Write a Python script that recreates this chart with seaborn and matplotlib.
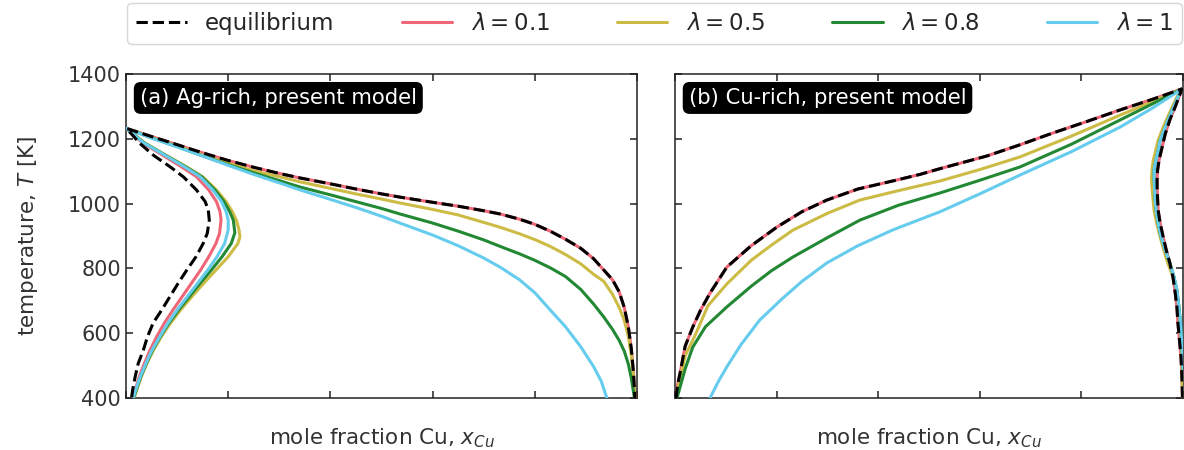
import matplotlib
matplotlib.use("Agg")
import matplotlib.pyplot as plt
import seaborn as sns
from matplotlib.ticker import MultipleLocator, NullFormatter

# === data: (x, T), one continuous curve per series ===
# panel (a) Ag-rich: lower branch bottom->top, then upper branch top->bottom
eq_a_x = [0.011, 0.013, 0.018, 0.024, 0.034, 0.042, 0.053, 0.070, 0.086, 0.102, 0.119, 0.137, 0.151, 0.159,
          0.163, 0.161, 0.155, 0.138, 0.112, 0.086, 0.053, 0.027, 0.001,
          0.05, 0.10, 0.145, 0.2, 0.25, 0.3, 0.341, 0.4, 0.45, 0.5, 0.536, 0.6, 0.65, 0.7, 0.732,
          0.77, 0.8, 0.83, 0.86, 0.89, 0.915, 0.935, 0.952, 0.965, 0.975, 0.983, 0.989, 0.993, 0.996]
eq_a_T = [402, 425, 466, 507, 548, 589, 631, 672, 713, 754, 795, 836, 877, 908,
          949, 980, 1006, 1042, 1083, 1114, 1150, 1186, 1232,
          1207, 1182, 1159, 1133, 1112, 1093, 1079, 1061, 1045, 1030, 1020, 1004, 992, 978, 968,
          952, 936, 915, 890, 862, 830, 795, 765, 728, 680, 620, 550, 480, 400]

lam01_a_x = [0.013, 0.018, 0.026, 0.036, 0.047, 0.060, 0.075, 0.092, 0.110, 0.128, 0.146, 0.162, 0.176, 0.183,
             0.186, 0.184, 0.177, 0.162, 0.138, 0.108, 0.066, 0.032, 0.001,
             0.05, 0.10, 0.145, 0.2, 0.25, 0.3, 0.341, 0.4, 0.45, 0.5, 0.536, 0.6, 0.65, 0.7, 0.732,
             0.77, 0.8, 0.83, 0.86, 0.89, 0.915, 0.935, 0.952, 0.965, 0.975, 0.983, 0.989, 0.993, 0.996]
lam01_a_T = [400, 425, 466, 507, 548, 589, 631, 672, 713, 754, 795, 836, 877, 908,
             949, 975, 1006, 1042, 1083, 1114, 1155, 1188, 1232,
             1207, 1182, 1159, 1133, 1112, 1093, 1079, 1061, 1045, 1030, 1020, 1004, 992, 978, 968,
             952, 936, 915, 890, 862, 830, 795, 765, 728, 680, 620, 550, 480, 400]

lam05_a_x = [0.016, 0.021, 0.030, 0.041, 0.054, 0.069, 0.087, 0.107, 0.129, 0.152, 0.176, 0.200, 0.219, 0.223,
             0.221, 0.216, 0.208, 0.196, 0.177, 0.150, 0.118, 0.072, 0.036, 0.001,
             0.05, 0.10, 0.145, 0.2, 0.25, 0.3, 0.341, 0.4, 0.45, 0.5, 0.536, 0.6, 0.65, 0.7, 0.732,
             0.77, 0.8, 0.83, 0.86, 0.89, 0.915, 0.935, 0.952, 0.965, 0.975, 0.983, 0.989, 0.993, 0.996]
lam05_a_T = [400, 425, 466, 507, 548, 589, 631, 672, 713, 754, 795, 836, 877, 898,
             920, 949, 975, 1006, 1042, 1083, 1114, 1155, 1188, 1232,
             1204, 1178, 1153, 1125, 1101, 1083, 1067, 1047, 1030, 1014, 1002, 982, 965, 942, 927,
             907, 889, 868, 843, 814, 782, 760, 720, 680, 640, 590, 530, 470, 400]

lam08_a_x = [0.015, 0.020, 0.029, 0.040, 0.052, 0.067, 0.084, 0.103, 0.124, 0.145, 0.167, 0.188, 0.206, 0.213,
             0.210, 0.203, 0.192, 0.174, 0.148, 0.116, 0.071, 0.035, 0.001,
             0.05, 0.10, 0.145, 0.2, 0.25, 0.3, 0.341, 0.4, 0.45, 0.5, 0.536, 0.6, 0.65, 0.7, 0.732,
             0.77, 0.8, 0.83, 0.86, 0.89, 0.915, 0.935, 0.952, 0.965, 0.975, 0.983, 0.989, 0.993, 0.995]
lam08_a_T = [400, 425, 466, 507, 548, 589, 631, 672, 713, 754, 795, 836, 877, 910,
             949, 975, 1006, 1042, 1083, 1114, 1155, 1188, 1232,
             1203, 1176, 1150, 1120, 1095, 1071, 1051, 1027, 1006, 985, 968, 940, 915, 888, 868,
             845, 825, 802, 775, 735, 690, 650, 612, 578, 545, 505, 460, 420, 400]

lam1_a_x = [0.014, 0.019, 0.028, 0.039, 0.051, 0.066, 0.082, 0.100, 0.120, 0.140, 0.160, 0.178, 0.193, 0.200,
            0.200, 0.196, 0.187, 0.170, 0.145, 0.114, 0.070, 0.034, 0.001,
            0.05, 0.10, 0.145, 0.2, 0.25, 0.3, 0.341, 0.4, 0.45, 0.5, 0.536, 0.6, 0.65, 0.7, 0.732,
            0.77, 0.8, 0.83, 0.86, 0.89, 0.915, 0.93, 0.941]
lam1_a_T = [400, 425, 466, 507, 548, 589, 631, 672, 713, 754, 795, 836, 877, 919,
            949, 975, 1006, 1042, 1083, 1114, 1155, 1188, 1232,
            1202, 1175, 1150, 1118, 1090, 1064, 1042, 1013, 988, 961, 940, 903, 870, 832, 804,
            765, 725, 672, 620, 558, 497, 452, 400]

# panel (b) Cu-rich: left branch bottom->top, then right branch top->bottom
eq_b_x = [0.002, 0.005, 0.010, 0.020, 0.035, 0.050, 0.069, 0.102, 0.150, 0.201, 0.250, 0.299, 0.360,
          0.429, 0.482, 0.522, 0.614, 0.680, 0.744, 0.810, 0.876, 0.940, 0.998,
          0.985, 0.974, 0.965, 0.959, 0.953, 0.950, 0.949, 0.949, 0.950, 0.951, 0.955, 0.961, 0.967,
          0.974, 0.980, 0.984, 0.988, 0.990, 0.993, 0.996, 0.998, 0.999]
eq_b_T = [400, 440, 477, 560, 619, 670, 724, 804, 870, 928, 975, 1011, 1045,
          1070, 1090, 1108, 1147, 1182, 1218, 1253, 1289, 1322, 1354,
          1300, 1258, 1215, 1175, 1135, 1104, 1075, 1051, 1015, 980, 940, 897, 857,
          817, 775, 733, 680, 631, 580, 527, 460, 400]

lam01_b_x = eq_b_x
lam01_b_T = eq_b_T

lam05_b_x = [0.002, 0.005, 0.020, 0.040, 0.065, 0.102, 0.150, 0.190, 0.232, 0.300, 0.364, 0.440, 0.522,
             0.600, 0.679, 0.780, 0.876, 0.940, 0.998,
             0.988, 0.975, 0.961, 0.951, 0.945, 0.941, 0.939, 0.938, 0.939, 0.941, 0.943, 0.948, 0.955,
             0.962, 0.970, 0.980, 0.988, 0.992, 0.994, 0.997, 0.998, 0.999]
lam05_b_T = [400, 425, 530, 595, 685, 752, 825, 872, 918, 970, 1011, 1040, 1070,
             1105, 1144, 1208, 1273, 1315, 1354,
             1329, 1285, 1236, 1195, 1156, 1130, 1104, 1078, 1051, 1015, 980, 940, 897,
             857, 817, 775, 733, 680, 631, 560, 486, 400]

lam08_b_x = [0.004, 0.010, 0.020, 0.035, 0.060, 0.102, 0.150, 0.190, 0.232, 0.300, 0.364, 0.440, 0.522,
             0.600, 0.679, 0.780, 0.876, 0.940, 0.998,
             0.990, 0.978, 0.965, 0.955, 0.950, 0.946, 0.943, 0.943, 0.944, 0.945, 0.947, 0.951, 0.957,
             0.965, 0.974, 0.982, 0.988, 0.992, 0.995, 0.998, 1.0]
lam08_b_T = [400, 434, 490, 557, 620, 681, 745, 793, 835, 895, 949, 995, 1033,
             1072, 1113, 1183, 1258, 1308, 1354,
             1329, 1285, 1236, 1195, 1156, 1130, 1104, 1078, 1051, 1015, 980, 940, 897,
             857, 817, 775, 733, 680, 631, 560, 490]

lam1_b_x = [0.069, 0.085, 0.102, 0.130, 0.167, 0.210, 0.250, 0.299, 0.360, 0.429, 0.522, 0.600, 0.679,
            0.780, 0.876, 0.940, 0.998,
            0.990, 0.978, 0.965, 0.955, 0.950, 0.946, 0.943, 0.943, 0.944, 0.945, 0.947, 0.951, 0.957,
            0.965, 0.974, 0.982, 0.988, 0.992, 0.995, 0.998, 1.0]
lam1_b_T = [400, 450, 496, 565, 641, 705, 760, 817, 870, 919, 975, 1030, 1088,
            1160, 1236, 1295, 1354,
            1329, 1285, 1236, 1195, 1156, 1130, 1104, 1078, 1051, 1015, 980, 940, 897,
            857, 817, 775, 733, 680, 631, 560, 490]

labels = ["equilibrium", r"$\lambda=0.1$", r"$\lambda=0.5$", r"$\lambda=0.8$", r"$\lambda=1$"]
colors = ["black", "#EE6677", "#CCBB44", "#228833", "#66CCEE"]
panel_titles = ["(a) Ag-rich, present model", "(b) Cu-rich, present model"]
y_ticks = [400, 600, 800, 1000, 1200, 1400]

series_a = [(eq_a_x, eq_a_T), (lam01_a_x, lam01_a_T), (lam05_a_x, lam05_a_T),
            (lam08_a_x, lam08_a_T), (lam1_a_x, lam1_a_T)]
series_b = [(eq_b_x, eq_b_T), (lam01_b_x, lam01_b_T), (lam05_b_x, lam05_b_T),
            (lam08_b_x, lam08_b_T), (lam1_b_x, lam1_b_T)]

# === style ===
sns.set_style("ticks")
plt.rcParams["font.family"] = ["DejaVu Sans"]
plt.rcParams["mathtext.fontset"] = "dejavusans"
plt.rcParams["axes.linewidth"] = 1.1
plt.rcParams["axes.edgecolor"] = "#222222"

fig = plt.figure(figsize=(11.84, 4.5), dpi=100)
ax_a = fig.add_axes([126 / 1184, 1 - 398 / 450, 511 / 1184, 324 / 450])
ax_b = fig.add_axes([675 / 1184, 1 - 398 / 450, 508 / 1184, 324 / 450])

handles = []
for ax, series, title in [(ax_a, series_a, panel_titles[0]), (ax_b, series_b, panel_titles[1])]:
    for i, (xs, ts) in enumerate(series):
        sns.lineplot(x=xs, y=ts, sort=False, estimator=None, ax=ax,
                     color=colors[i], linewidth=2.2,
                     linestyle="--" if i == 0 else "-",
                     zorder=5 if i == 0 else 3 + i * 0.1)
    ax.set_xlim(0, 1)
    ax.set_ylim(400, 1400)
    ax.set_yticks(y_ticks)
    ax.xaxis.set_major_locator(MultipleLocator(0.2))
    ax.xaxis.set_major_formatter(NullFormatter())
    ax.tick_params(direction="in", top=True, right=True, length=5, width=1.1,
                   labelsize=15, colors="#222222", labelcolor="#333333")
    ax.set_xlabel(r"mole fraction Cu, $x_{Cu}$", fontsize=15.5, color="#333333", labelpad=17)
    ax.text(0.027, 0.957, title, transform=ax.transAxes, fontsize=15.2, color="white",
            va="top", ha="left",
            bbox=dict(boxstyle="round,pad=0.25,rounding_size=0.3", fc="black", ec="black"))
    if not handles:
        handles = ax.get_lines()[:5]

ax_a.set_ylabel(r"temperature, $T$ [K]", fontsize=15.5, color="#333333", labelpad=20)
ax_b.set_ylabel("")
ax_b.yaxis.set_major_formatter(NullFormatter())

fig.legend(handles, labels, loc="lower left",
           bbox_to_anchor=(127 / 1184, 1 - 44 / 450, 1055 / 1184, 39 / 450),
           mode="expand", ncol=5, borderaxespad=0, fontsize=16.5,
           frameon=True, fancybox=True, edgecolor="#cccccc", handlelength=2.2)

fig.savefig("out.png", dpi=100)
